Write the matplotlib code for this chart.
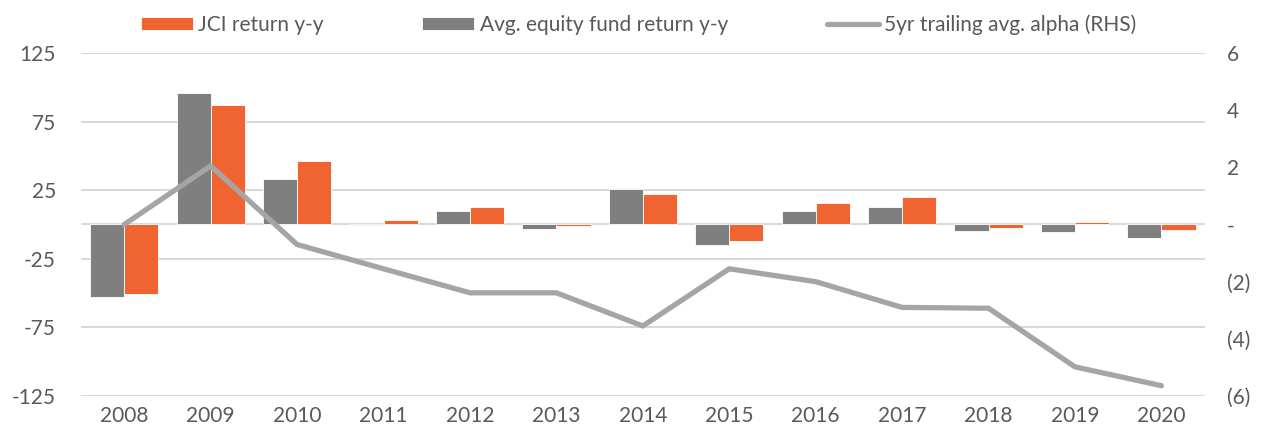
import numpy as np
import matplotlib.pyplot as plt

plt.rcParams['font.family'] = ['Lato', 'DejaVu Sans']
plt.rcParams['axes.unicode_minus'] = False

years = ['2008', '2009', '2010', '2011', '2012', '2013', '2014',
         '2015', '2016', '2017', '2018', '2019', '2020']
# y-y returns (%)
jci_ret = [-50.7, 86.9, 46.1, 3.2, 12.9, -1.0, 22.3, -11.9, 15.5, 19.9, -2.7, 1.7, -4.1]
fund_ret = [-52.7, 96.1, 33.5, -0.3, 10.0, -3.2, 25.7, -14.8, 9.5, 12.6, -4.6, -5.3, -9.7]
# 5yr trailing avg alpha (RHS)
alpha_5yr = [0.0, 2.05, -0.70, -1.55, -2.39, -2.39, -3.55, -1.55, -2.0, -2.9, -2.93, -4.98, -5.64]

left_ticks = [-125, -75, -25, 25, 75, 125]
right_ticks = [-6, -4, -2, 0, 2, 4, 6]
right_labels = ['(6)', '(4)', '(2)', '-', '2', '4', '6']

ORANGE = '#F06432'
GREY = '#7F7F7F'
LINE = '#A5A5A5'
TXT = '#595959'
GRID = '#D9D9D9'

fig = plt.figure(figsize=(12.72, 4.38), dpi=100)
ax = fig.add_axes([0.0637, 0.0959, 0.8833, 0.7831])
ax2 = ax.twinx()

x = np.arange(len(years))
w = 0.395
b1 = ax.bar(x - w / 2, fund_ret, w, color=GREY, edgecolor='white', linewidth=0.6,
            label='Avg. equity fund return y-y', zorder=2)
b2 = ax.bar(x + w / 2, jci_ret, w, color=ORANGE, edgecolor='white', linewidth=0.6,
            label='JCI return y-y', zorder=2)
ax.axhline(0, color=GRID, lw=1.5, zorder=1)

ax.set_ylim(-125, 125)
ax.set_yticks(left_ticks)
ax.set_xlim(-0.5, len(years) - 0.5)
ax.set_xticks(x)
ax.set_xticklabels(years)
for yv in left_ticks:
    ax.axhline(yv, color=GRID, lw=1.5, zorder=0)

ln, = ax2.plot(x, alpha_5yr, color=LINE, lw=3.8, solid_capstyle='round',
               solid_joinstyle='round', label='5yr trailing avg. alpha (RHS)', zorder=3)
ax2.set_ylim(-6, 6)
ax2.set_yticks(right_ticks)
ax2.set_yticklabels(right_labels)

for a in (ax, ax2):
    for s in a.spines.values():
        s.set_visible(False)
    a.tick_params(length=0, labelsize=15, colors=TXT)
ax.tick_params(axis='x', pad=7)
ax.tick_params(axis='y', pad=18)
ax2.tick_params(axis='y', pad=16)

# draw line above bars
ax.set_zorder(1)
ax2.set_zorder(2)
ax.patch.set_visible(False)

fig.legend([b2, b1, ln], ['JCI return y-y', 'Avg. equity fund return y-y',
                          '5yr trailing avg. alpha (RHS)'],
           loc='upper center', bbox_to_anchor=(0.502, 1.01), ncol=3, frameon=False,
           fontsize=15, labelcolor=TXT, handlelength=2.5, handleheight=0.6,
           handletextpad=0.25, columnspacing=4.75)

fig.savefig('out.png', dpi=100)
